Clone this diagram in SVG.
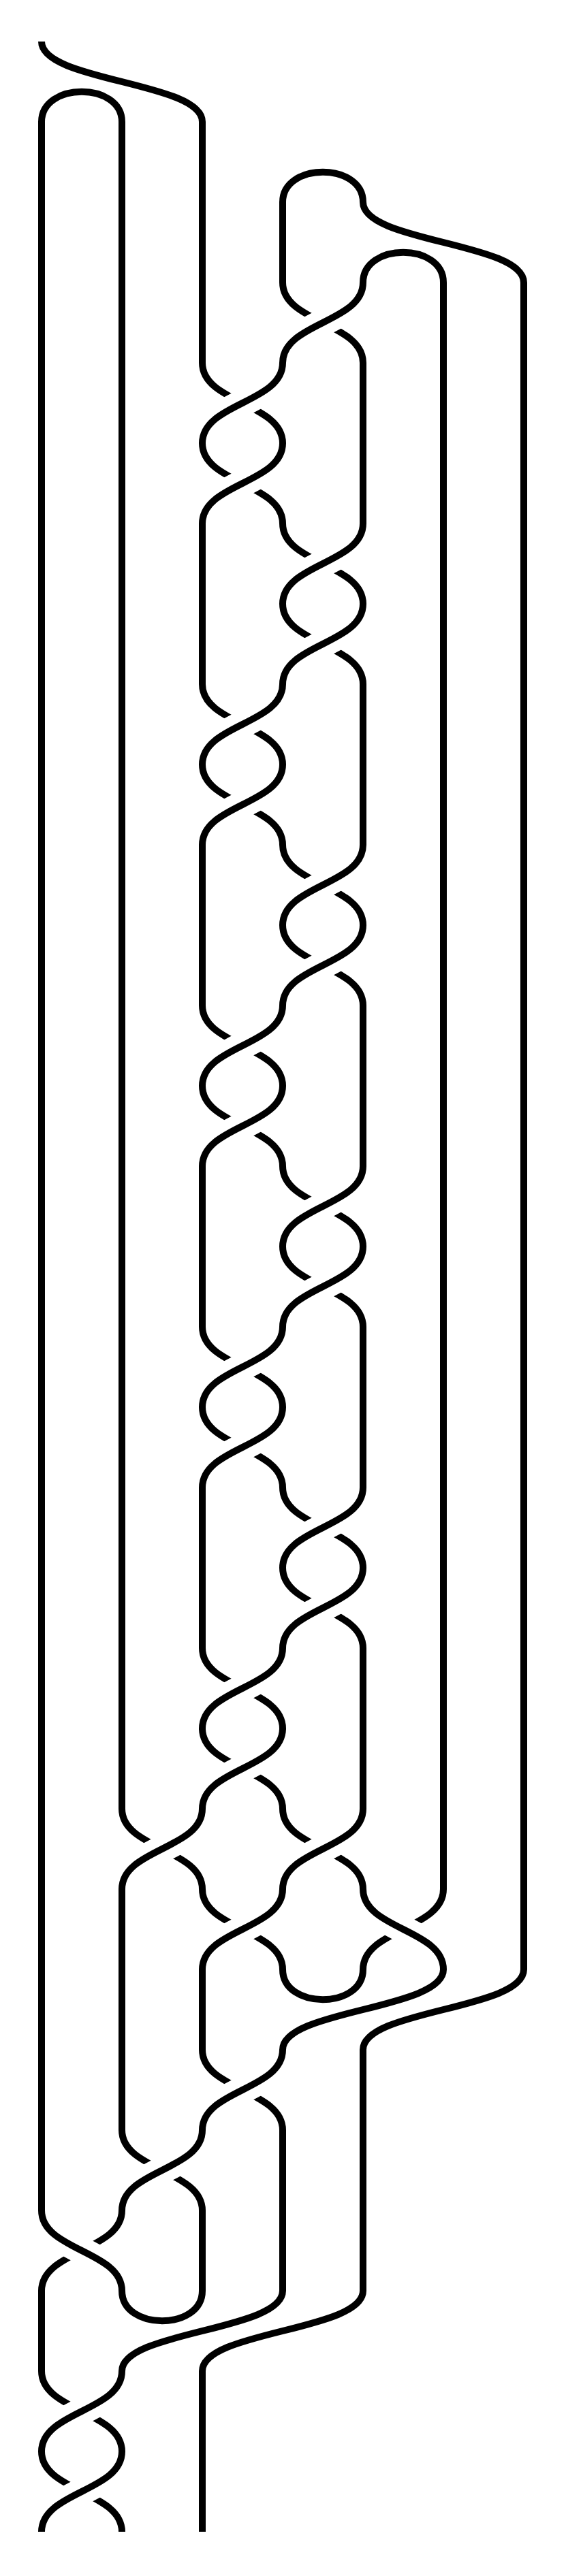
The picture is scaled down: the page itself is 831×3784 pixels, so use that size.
<svg xmlns="http://www.w3.org/2000/svg" width="831" height="3784" viewBox="0 0 831 3784">
<style>
.s{fill:none;stroke:#000;stroke-width:10;stroke-linecap:butt}
.h{fill:none;stroke:#fff;stroke-width:40;stroke-linecap:butt}
</style>
<rect width="831" height="3784" fill="#fff"/>
<g id="verticals" class="s">
<path d="M61 179V3247M61 3365V3483"/>
<path d="M179 179V2657M179 2775V3129"/>
<path d="M297 179V533M297 769V1005M297 1241V1477M297 1713V1949M297 2185V2421M297 2893V3011M297 3247V3365M297 3483V3719"/>
<path d="M415 297V415M415 3129V3365"/>
<path d="M533 533V769M533 1005V1241M533 1477V1713M533 1949V2185M533 2421V2657M533 3011V3365"/>
<path d="M651 415V2775"/>
<path d="M769 415V2893"/>
</g>
<g id="caps-cups" class="s">
<path d="M61 179C61 120 179 120 179 179"/>
<path d="M415 297C415 238 533 238 533 297"/>
<path d="M533 415C533 356 651 356 651 415"/>
<path d="M415 2893C415 2952 533 2952 533 2893"/>
<path d="M179 3365C179 3424 297 3424 297 3365"/>
</g>
<g id="shifts" class="s">
<path d="M61 61C61 120 297 120 297 179"/>
<path d="M533 297C533 356 769 356 769 415"/>
<path d="M651 2893C651 2952 415 2952 415 3011"/>
<path d="M769 2893C769 2952 533 2952 533 3011"/>
<path d="M415 3365C415 3424 179 3424 179 3483"/>
<path d="M533 3365C533 3424 297 3424 297 3483"/>
</g>
<g id="under-crossings" class="s">
<path d="M415 415C415 474 533 474 533 533"/>
<path d="M297 533C297 592 415 592 415 651"/>
<path d="M297 651C297 710 415 710 415 769"/>
<path d="M415 769C415 828 533 828 533 887"/>
<path d="M415 887C415 946 533 946 533 1005"/>
<path d="M297 1005C297 1064 415 1064 415 1123"/>
<path d="M297 1123C297 1182 415 1182 415 1241"/>
<path d="M415 1241C415 1300 533 1300 533 1359"/>
<path d="M415 1359C415 1418 533 1418 533 1477"/>
<path d="M297 1477C297 1536 415 1536 415 1595"/>
<path d="M297 1595C297 1654 415 1654 415 1713"/>
<path d="M415 1713C415 1772 533 1772 533 1831"/>
<path d="M415 1831C415 1890 533 1890 533 1949"/>
<path d="M297 1949C297 2008 415 2008 415 2067"/>
<path d="M297 2067C297 2126 415 2126 415 2185"/>
<path d="M415 2185C415 2244 533 2244 533 2303"/>
<path d="M415 2303C415 2362 533 2362 533 2421"/>
<path d="M297 2421C297 2480 415 2480 415 2539"/>
<path d="M297 2539C297 2598 415 2598 415 2657"/>
<path d="M179 2657C179 2716 297 2716 297 2775"/>
<path d="M415 2657C415 2716 533 2716 533 2775"/>
<path d="M297 2775C297 2834 415 2834 415 2893"/>
<path d="M651 2775C651 2834 533 2834 533 2893"/>
<path d="M297 3011C297 3070 415 3070 415 3129"/>
<path d="M179 3129C179 3188 297 3188 297 3247"/>
<path d="M179 3247C179 3306 61 3306 61 3365"/>
<path d="M61 3483C61 3542 179 3542 179 3601"/>
<path d="M61 3601C61 3660 179 3660 179 3719"/>
</g>
<defs>
<path id="o3" d="M533 415C533 474 415 474 415 533"/>
<path id="o4" d="M415 533C415 592 297 592 297 651"/>
<path id="o5" d="M415 651C415 710 297 710 297 769"/>
<path id="o6" d="M533 769C533 828 415 828 415 887"/>
<path id="o7" d="M533 887C533 946 415 946 415 1005"/>
<path id="o8" d="M415 1005C415 1064 297 1064 297 1123"/>
<path id="o9" d="M415 1123C415 1182 297 1182 297 1241"/>
<path id="o10" d="M533 1241C533 1300 415 1300 415 1359"/>
<path id="o11" d="M533 1359C533 1418 415 1418 415 1477"/>
<path id="o12" d="M415 1477C415 1536 297 1536 297 1595"/>
<path id="o13" d="M415 1595C415 1654 297 1654 297 1713"/>
<path id="o14" d="M533 1713C533 1772 415 1772 415 1831"/>
<path id="o15" d="M533 1831C533 1890 415 1890 415 1949"/>
<path id="o16" d="M415 1949C415 2008 297 2008 297 2067"/>
<path id="o17" d="M415 2067C415 2126 297 2126 297 2185"/>
<path id="o18" d="M533 2185C533 2244 415 2244 415 2303"/>
<path id="o19" d="M533 2303C533 2362 415 2362 415 2421"/>
<path id="o20" d="M415 2421C415 2480 297 2480 297 2539"/>
<path id="o21" d="M415 2539C415 2598 297 2598 297 2657"/>
<path id="o22a" d="M297 2657C297 2716 179 2716 179 2775"/>
<path id="o22b" d="M533 2657C533 2716 415 2716 415 2775"/>
<path id="o23a" d="M415 2775C415 2834 297 2834 297 2893"/>
<path id="o23b" d="M533 2775C533 2834 651 2834 651 2893"/>
<path id="o25" d="M415 3011C415 3070 297 3070 297 3129"/>
<path id="o26" d="M297 3129C297 3188 179 3188 179 3247"/>
<path id="o27" d="M61 3247C61 3306 179 3306 179 3365"/>
<path id="o29" d="M179 3483C179 3542 61 3542 61 3601"/>
<path id="o30" d="M179 3601C179 3660 61 3660 61 3719"/>
</defs>
<g id="over-halos" class="h">
<use href="#o3"/><use href="#o4"/><use href="#o5"/><use href="#o6"/><use href="#o7"/><use href="#o8"/><use href="#o9"/><use href="#o10"/><use href="#o11"/><use href="#o12"/><use href="#o13"/><use href="#o14"/><use href="#o15"/><use href="#o16"/><use href="#o17"/><use href="#o18"/><use href="#o19"/><use href="#o20"/><use href="#o21"/><use href="#o22a"/><use href="#o22b"/><use href="#o23a"/><use href="#o23b"/><use href="#o25"/><use href="#o26"/><use href="#o27"/><use href="#o29"/><use href="#o30"/>
</g>
<g id="over-crossings" class="s">
<use href="#o3"/><use href="#o4"/><use href="#o5"/><use href="#o6"/><use href="#o7"/><use href="#o8"/><use href="#o9"/><use href="#o10"/><use href="#o11"/><use href="#o12"/><use href="#o13"/><use href="#o14"/><use href="#o15"/><use href="#o16"/><use href="#o17"/><use href="#o18"/><use href="#o19"/><use href="#o20"/><use href="#o21"/><use href="#o22a"/><use href="#o22b"/><use href="#o23a"/><use href="#o23b"/><use href="#o25"/><use href="#o26"/><use href="#o27"/><use href="#o29"/><use href="#o30"/>
</g>
</svg>
